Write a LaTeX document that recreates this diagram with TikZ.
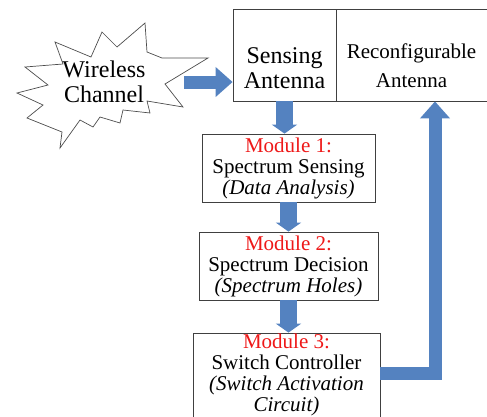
\documentclass[tikz,border=0pt]{standalone}
\usepackage{fontspec}
\setmainfont{Liberation Serif}
\usetikzlibrary{arrows.meta,positioning}
\definecolor{flowblue}{RGB}{84,130,192}
\definecolor{modred}{RGB}{238,24,24}
\tikzset{
  box/.style={draw=black!75, line width=0.8pt, inner sep=0pt},
  modbox/.style={box, align=center, font=\fontsize{21}{21}\selectfont},
  bigflow/.style={draw=flowblue, line width=13pt, -{Triangle[width=29pt,length=17pt]}},
  smallflow/.style={draw=flowblue, line width=17pt, -{Triangle[width=25pt,length=9pt]}},
}
\begin{document}
\begin{tikzpicture}[x=1pt,y=-1pt]
\useasboundingbox (0,0) rectangle (487,416);
% wireless channel burst
\draw[line width=0.7pt, draw=black!70] (25,67) -- (63,64) -- (55,42) -- (91,57) -- (102,32)
  -- (117,47) -- (145,23) -- (147,52) -- (162,58) -- (208,58) -- (165,84) -- (183,107)
  -- (147,101) -- (150,113) -- (123,110) -- (120,123) -- (100,117) -- (93,127) -- (80,120)
  -- (60,148) -- (62,132) -- (27,118) -- (43,105) -- (17,93) -- (48,85) -- cycle;
\node[align=center, font=\fontsize{24}{25}\selectfont] (wc) at (104,82) {Wireless\\Channel};
% antenna box
\node[box, minimum width=103pt, minimum height=92pt] (sens) at (284.5,55) {};
\node[box, minimum width=151pt, minimum height=92pt] (reconf) at (411.5,55) {};
\node[align=center, font=\fontsize{24}{24.5}\selectfont] (senstxt) at (284.5,68) {Sensing\\Antenna};
\node[align=center, font=\fontsize{21}{29}\selectfont] (reconftxt) at (411.5,66) {Reconfigurable\\Antenna};
% modules
\node[modbox, minimum width=173pt, minimum height=68pt] (m1) at (288.5,168)
  {\textcolor{modred}{Module 1:}\\Spectrum Sensing\\\textit{(Data Analysis)}};
\node[modbox, minimum width=179pt, minimum height=68pt] (m2) at (288.5,266)
  {\textcolor{modred}{Module 2:}\\Spectrum Decision\\\textit{(Spectrum Holes)}};
\node[modbox, minimum width=187pt, minimum height=84pt] (m3) at (286.5,375)
  {\textcolor{modred}{Module 3:}\\Switch Controller\\\textit{(Switch Activation}\\\textit{Circuit)}};
% arrows
\coordinate (wcout) at (184,82);
\coordinate (fbturn) at (435,373);
\draw[bigflow] (wcout) -- (wcout -| sens.west);
\draw[smallflow] (sens.south) -- (sens.south |- m1.north);
\draw[smallflow] (m1.south) -- (m1.south |- m2.north);
\draw[smallflow] (m2.south) -- (m2.south |- m3.north);
\draw[bigflow] (m3.east |- fbturn) -- (fbturn) -- (fbturn |- reconf.south);
\end{tikzpicture}
\end{document}
